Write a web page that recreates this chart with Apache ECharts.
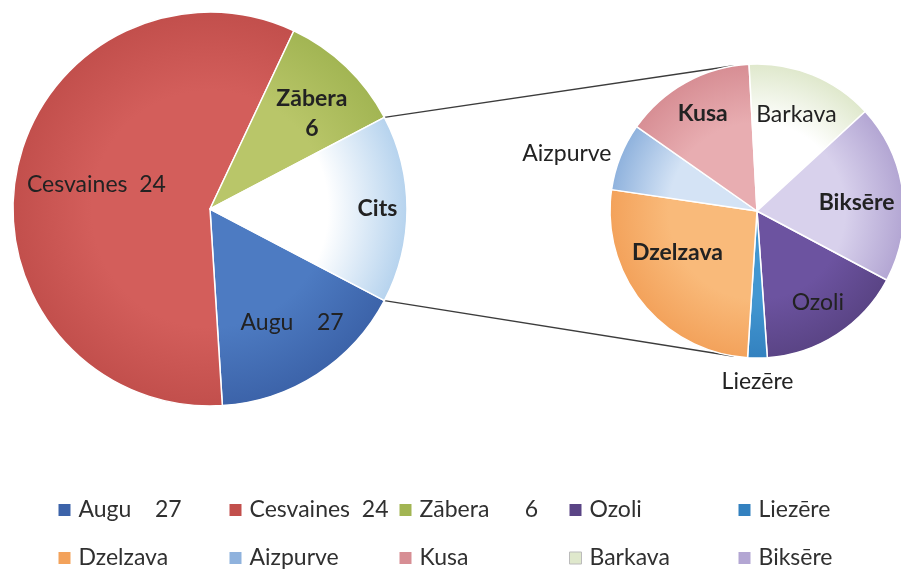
<!DOCTYPE html>
<html>
<head>
<meta charset="utf-8">
<script src="https://cdn.jsdelivr.net/npm/echarts@6/dist/echarts.min.js"></script>
<style>
  html, body { margin: 0; padding: 0; background: #fff; }
  #chart { width: 901px; height: 569px; }
</style>
</head>
<body>
<div id="chart"></div>
<script>
// main pie
var mainNames = ['Augu    27', 'Cesvaines  24', 'Zābera      6'];
var mainValues = [16.3, 58.0, 10.3];
var mainLabels = ['Augu    27', 'Cesvaines  24', 'Zābera\n6'];
var otherName = 'Cits';

// second pie (the "Cits" part)
var subNames = ['Ozoli', 'Liezēre', 'Dzelzava', 'Aizpurve', 'Kusa', 'Barkava', 'Biksēre'];
var subValues = [2.48, 0.33, 4.05, 1.14, 2.22, 2.16, 3.02];

// legend order, as in the picture
var legendNames = mainNames.concat(subNames);

// ---- styles ----
var FONT = 'Lato';
var mainColors = [['#4d7bc2', '#3c63a9'], ['#d35e5b', '#c24f4c'], ['#b9c669', '#a2b553'], ['#ffffff', '#b6d3ee']];
var subColors = [['#6c53a0', '#5a4485'], ['#4297d1', '#3381bf'], ['#f9ba7a', '#f3a25b'], ['#d4e3f5', '#8fb2dd'],
  ['#e8adb1', '#d78e94'], ['#ffffff', '#dfe8cc'], ['#d8d1ec', '#b3a6d3']];
var mainBold = [false, false, true, true];
var subBold = [false, false, true, false, true, false, true];
// label placement: [radius factor, angle shift from slice middle]
var mainLabelPos = [[0.71, 3], [0.59, -1.5], [0.71, -3], [0.85, 0]];
var subLabelPos = [[0.75, 0.5], [1.16, 0], [0.61, -11.5], [1.35, 5], [0.76, 0], [0.71, 0], [0.68, -2.6]];
var legendCols = [58, 229, 399, 569, 738];
var legendRows = [498, 546];

var main = {cx: 210, cy: 209, r: 197};
var sub = {cx: 757, cy: 211, r: 147};
var connectAngle = 99;

function sum(a) {
  return a.reduce(function (s, v) { return s + v; }, 0);
}

function midAngles(values, start) {
  var total = sum(values);
  var a = start;
  return values.map(function (v) {
    var span = v / total * 360;
    var m = a - span / 2;
    a -= span;
    return m;
  });
}

function pt(c, angle, f) {
  var rad = angle * Math.PI / 180;
  return [c.cx + f * c.r * Math.cos(rad), c.cy - f * c.r * Math.sin(rad)];
}

function grad(c, pair) {
  return {
    type: 'radial', x: c.cx, y: c.cy, r: c.r, global: true,
    colorStops: [{offset: 0, color: pair[0]}, {offset: 0.6, color: pair[0]}, {offset: 1, color: pair[1]}]
  };
}

var otherValue = sum(subValues);
var allMain = mainValues.concat([otherValue]);
var otherSpan = otherValue / sum(allMain) * 360;
var mainStart = -otherSpan / 2;
var subStart = -28;

var mainMid = midAngles(allMain, mainStart);
var subMid = midAngles(subValues, subStart);

var mainData = allMain.map(function (v, i) {
  return {
    name: i < mainNames.length ? mainNames[i] : otherName,
    value: v,
    itemStyle: {color: grad(main, mainColors[i])},
    label: {fontWeight: mainBold[i] ? 'bold' : 'normal'}
  };
});
var subData = subValues.map(function (v, i) {
  return {
    name: subNames[i],
    value: v,
    itemStyle: {color: grad(sub, subColors[i])},
    label: {fontWeight: subBold[i] ? 'bold' : 'normal'}
  };
});

var baseColors = mainColors.slice(0, 3).concat(subColors);
var legends = legendNames.map(function (n, i) {
  return {
    data: [{name: n, itemStyle: {color: baseColors[i][1], borderColor: i == 8 ? '#bbb' : 'transparent', borderWidth: 1}}],
    left: legendCols[i % 5],
    top: legendRows[Math.floor(i / 5)],
    padding: 0,
    itemWidth: 12,
    itemHeight: 12,
    icon: 'rect',
    selectedMode: false,
    textStyle: {fontFamily: FONT, fontSize: 23, color: '#303030', padding: [0, 0, 0, 3], lineHeight: 24}
  };
});

// connector lines between the "Cits" slice and the second pie
var lines = [1, -1].map(function (s) {
  var p1 = pt(main, s * otherSpan / 2, 1);
  var p2 = pt(sub, s * connectAngle, 1);
  return {
    type: 'line', z: 0,
    shape: {x1: p1[0], y1: p1[1], x2: p2[0], y2: p2[1]},
    style: {stroke: '#3c3c3c', lineWidth: 1.4}
  };
});

var labelBase = {
  show: true, position: 'inside', rotate: 0,
  fontFamily: FONT, fontSize: 23, color: '#222', lineHeight: 30, textBorderWidth: 0
};

var chart = echarts.init(document.getElementById('chart'));
chart.setOption({
  animation: false,
  legend: legends,
  graphic: lines,
  series: [
    {
      type: 'pie',
      center: [main.cx, main.cy],
      radius: [0, main.r],
      startAngle: mainStart,
      clockwise: true,
      avoidLabelOverlap: false,
      itemStyle: {borderColor: '#fff', borderWidth: 1.5},
      emphasis: {disabled: true},
      label: Object.assign({}, labelBase, {
        formatter: function (p) {
          return p.dataIndex < mainLabels.length ? mainLabels[p.dataIndex] : p.name;
        }
      }),
      labelLine: {show: false},
      labelLayout: function (p) {
        var lp = mainLabelPos[p.dataIndex];
        var xy = pt(main, mainMid[p.dataIndex] + lp[1], lp[0]);
        return {x: xy[0], y: xy[1], align: 'center', verticalAlign: 'middle'};
      },
      data: mainData
    },
    {
      type: 'pie',
      center: [sub.cx, sub.cy],
      radius: [0, sub.r],
      startAngle: subStart,
      clockwise: true,
      avoidLabelOverlap: false,
      itemStyle: {borderColor: '#fff', borderWidth: 1.5},
      emphasis: {disabled: true},
      label: labelBase,
      labelLine: {show: false},
      labelLayout: function (p) {
        var lp = subLabelPos[p.dataIndex];
        var xy = pt(sub, subMid[p.dataIndex] + lp[1], lp[0]);
        return {x: xy[0], y: xy[1], align: 'center', verticalAlign: 'middle'};
      },
      data: subData
    }
  ]
});
</script>
</body>
</html>
